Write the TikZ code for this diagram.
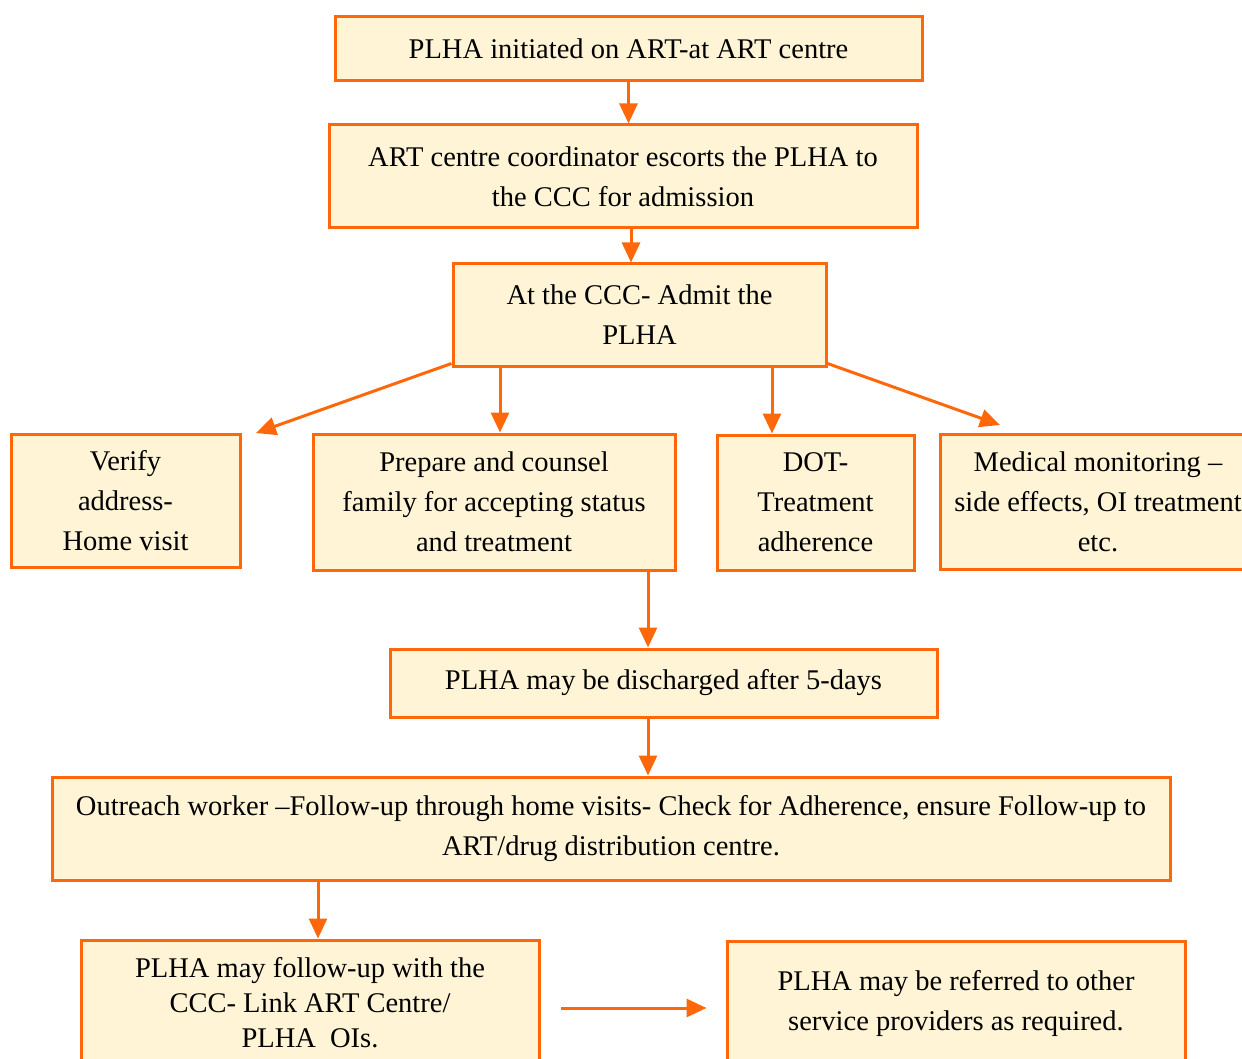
\documentclass[tikz,border=0pt]{standalone}
\usepackage{fontspec}
\setmainfont{Liberation Serif}
\usetikzlibrary{arrows.meta,positioning}
\definecolor{boxline}{RGB}{255,104,10}
\definecolor{boxfill}{RGB}{255,245,214}

\begin{document}
\begin{tikzpicture}[->,>={Triangle[length=20pt,width=18pt]},x=1pt,y=-1pt,
            line width=3pt,flow box/.style={draw=boxline,fill=boxfill,align=center,
            inner sep=0pt,font=\fontsize{28.5}{40}\selectfont}]

        \clip (0,0) rectangle (1242,1059);

        % Define boxes
        \node[flow box,minimum width=587pt,minimum height=64pt] (start) at (628.5,49) {PLHA initiated on ART-at ART centre};
        \node[flow box,minimum width=588pt,minimum height=103pt] (escort) at (623,176.5) {ART centre coordinator escorts the PLHA to\\the CCC for admission};
        \node[flow box,minimum width=373pt,minimum height=102pt] (admit) at (639.5,315) {At the CCC- Admit the\\PLHA};
        \node[flow box,minimum width=229pt,minimum height=133pt] (verify) at (125.5,500.5) {Verify\\address-\\Home visit};
        \node[flow box,minimum width=362pt,minimum height=136pt] (counsel) at (494,502) {Prepare and counsel\\family for accepting status\\and treatment};
        \node[flow box,minimum width=197pt,minimum height=135pt] (dot) at (815.5,502.5) {DOT-\\Treatment\\adherence};
        \node[flow box,minimum width=316pt,minimum height=135pt] (medical) at (1098,501.5) {Medical monitoring –\\side effects, OI treatment\\etc.};
        \node[flow box,minimum width=547pt,minimum height=68pt] (discharge) at (663.5,683) {PLHA may be discharged after 5-days};
        \node[flow box,minimum width=1118pt,minimum height=103pt] (outreach) at (611,828.5) {Outreach worker –Follow-up through home visits- Check for Adherence, ensure Follow-up to\\ART/drug distribution centre.};
        \node[flow box,minimum width=458pt,minimum height=126pt,font=\fontsize{28.5}{35}\selectfont] (followup) at (310,1003) {PLHA may follow-up with the\\CCC- Link ART Centre/\\PLHA\ \ OIs.};
        \node[flow box,minimum width=458pt,minimum height=124pt] (refer) at (956,1003) {PLHA may be referred to other\\service providers as required.};

        % Free ends of the slanted arrows
        \coordinate (verify tip) at (256,433);
        \coordinate (medical tip) at (1000,425);

        % Draw edges
        \path[every edge/.style={draw=boxline}]
            (start.south) edge (start.south |- escort.north)
            ([xshift=8pt]escort.south) edge ([xshift=8pt]escort.south |- admit.north)
            ([yshift=4pt]admit.south west) edge (verify tip)
            ([xshift=6pt]counsel.north |- admit.south) edge ([xshift=6pt]counsel.north)
            ([xshift=-43.5pt]dot.north |- admit.south) edge ([xshift=-43.5pt]dot.north)
            ([yshift=4pt]admit.south east) edge (medical tip)
            ([xshift=-15.5pt]discharge.north |- counsel.south) edge ([xshift=-15.5pt]discharge.north)
            ([xshift=-15.5pt]discharge.south) edge ([xshift=-15.5pt]discharge.south |- outreach.north)
            ([xshift=8pt]followup.north |- outreach.south) edge ([xshift=8pt]followup.north)
            ([xshift=20pt,yshift=-5pt]followup.east) edge ([xshift=-19pt,yshift=-5pt]followup.east -| refer.west);

        \end{tikzpicture}
\end{document}
